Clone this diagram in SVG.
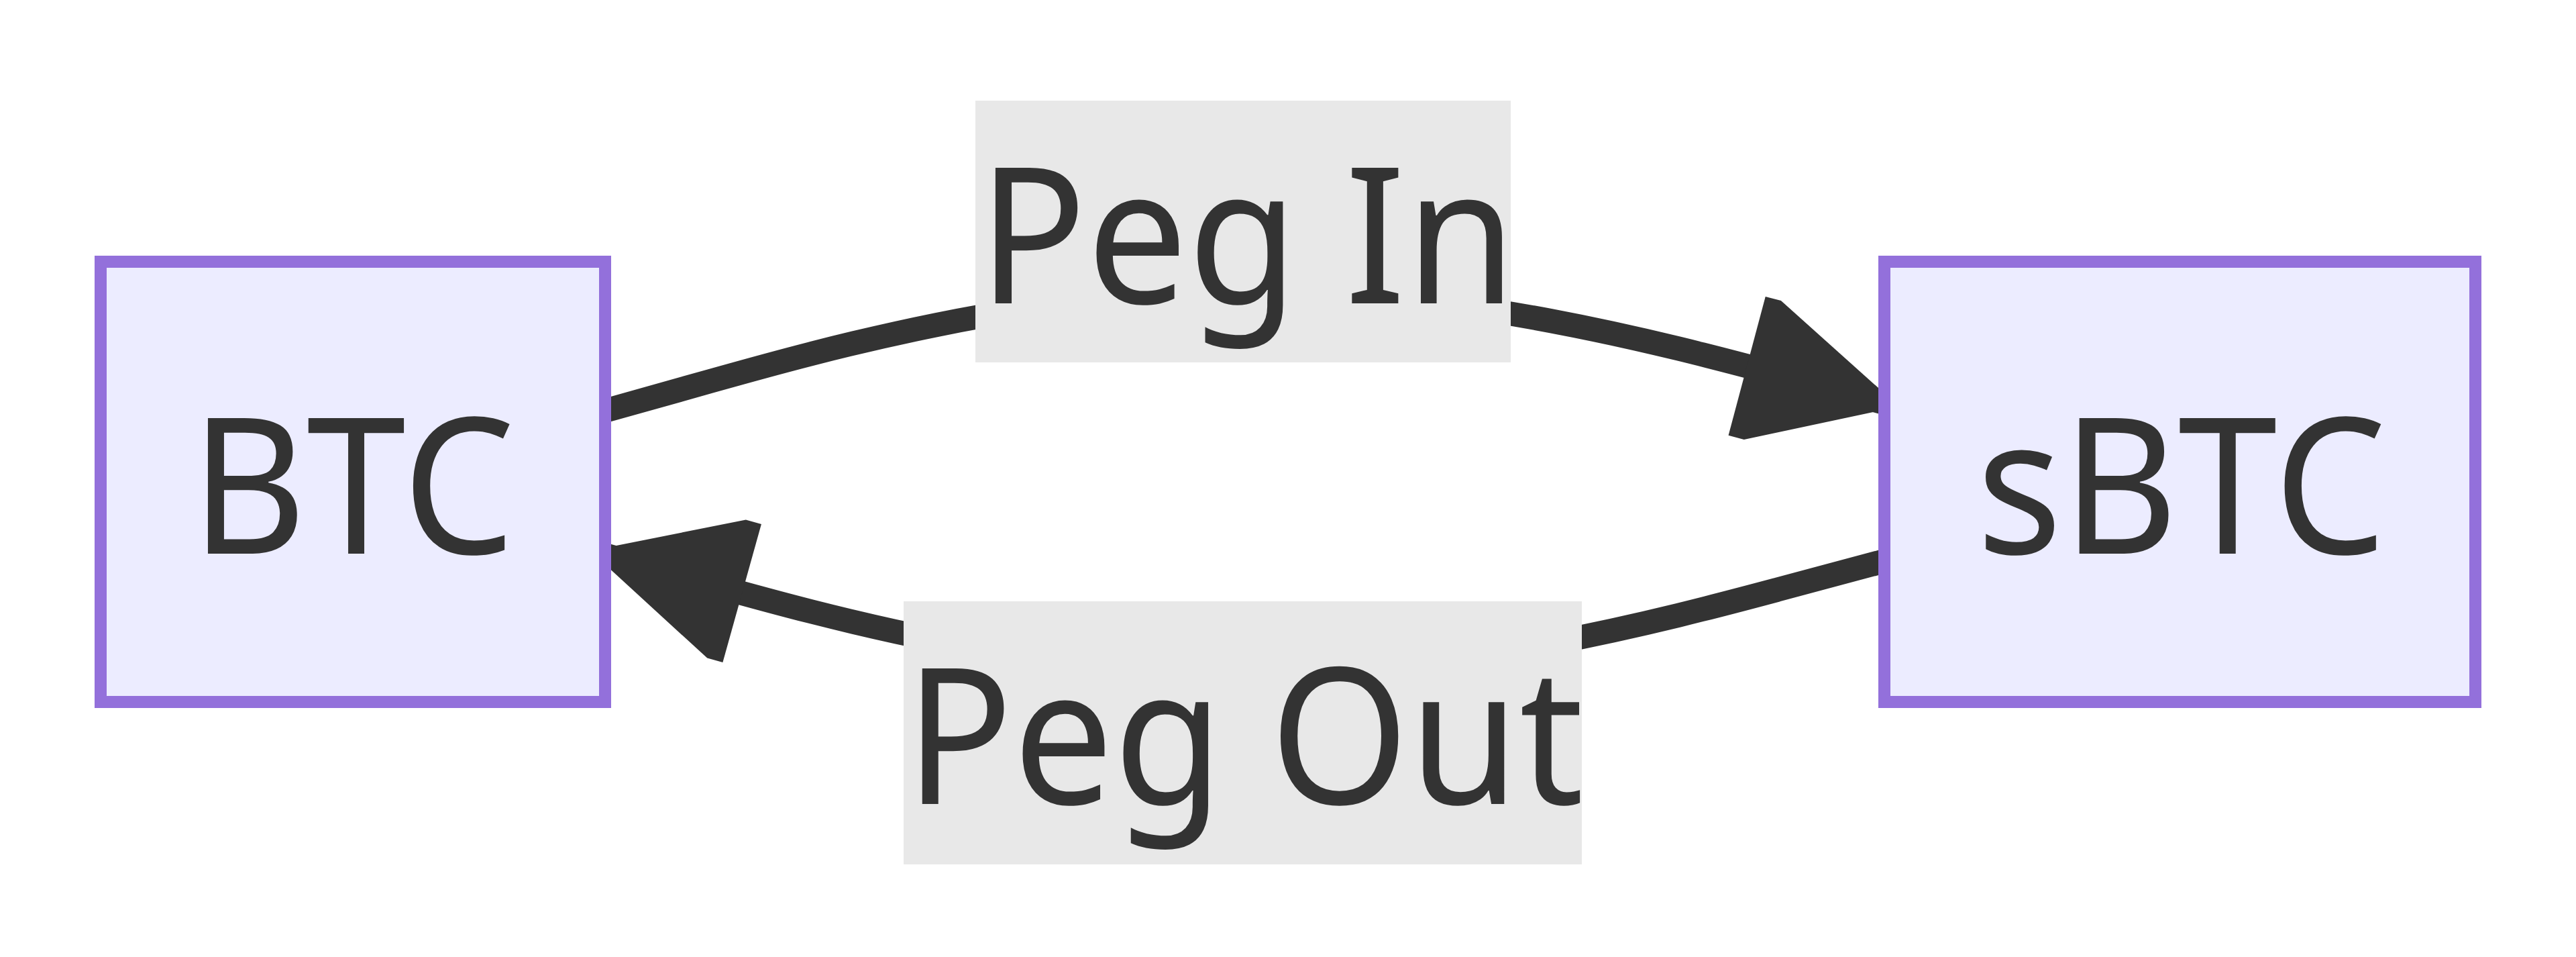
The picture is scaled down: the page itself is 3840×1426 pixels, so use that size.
<svg xmlns="http://www.w3.org/2000/svg" width="3840" height="1426" viewBox="0 0 3840 1426">
  <defs>
    <style>
      .node rect { fill: #ECECFF; stroke: #9370DB; stroke-width: 18; }
      .node text { font-family: "Noto Sans", "Open Sans", "DejaVu Sans", sans-serif; font-size: 283px; fill: #333333; text-anchor: middle; }
      .edge { fill: none; stroke: #333333; stroke-width: 36; }
      .arrow { fill: #333333; stroke: none; }
      .elabel rect { fill: #E8E8E8; stroke: none; }
      .elabel text { font-family: "Noto Sans", "Open Sans", "DejaVu Sans", sans-serif; font-size: 283px; fill: #333333; }
    </style>
    <path id="arrowhead" class="arrow" d="M0,0 L-211,-107 L-235,-107 L-235,107 L-211,107 Z"/>
    <clipPath id="clipPegOut">
      <rect x="1347" y="896" width="1011" height="392"/>
    </clipPath>
  </defs>
  <rect x="0" y="0" width="3840" height="1426" fill="#FFFFFF"/>

  <g id="connectors">
    <g id="edge-pegin">
      <path class="edge" d="M902,612 L1060.5,567.5 C1219,523 1536,434 1853.8,432 C2171.7,430 2490.3,515 2649.7,557.5 L2809,600"/>
      <use href="#arrowhead" transform="translate(2831.2,605.9) rotate(14.94)"/>
    </g>
    <g id="edge-pegout">
      <path class="edge" d="M2809,836 L2649.5,878.7 C2490,921.3 2171,1006.7 1853.2,1005.2 C1535.3,1003.7 1218.7,915.3 1060.3,871.2 L902,827"/>
      <use href="#arrowhead" transform="translate(879.8,820.8) rotate(195.6)"/>
    </g>
  </g>

  <g id="label-pegin" class="elabel">
    <rect x="1454" y="150" width="798" height="390"/>
    <text x="1458" y="452" transform="matrix(0.945 0 0 1 80.2 0)">Peg In</text>
  </g>
  <g id="label-pegout" class="elabel" clip-path="url(#clipPegOut)">
    <rect x="1347" y="896" width="1011" height="392"/>
    <text x="1349" y="1198" transform="matrix(0.94 0 0 1 80.94 0)">Peg Out</text>
  </g>

  <g id="node-BTC" class="node">
    <rect x="150" y="390" width="752" height="656"/>
    <text x="526" y="825" transform="matrix(0.94 0 0 1 31.56 0)">BTC</text>
  </g>
  <g id="node-sBTC" class="node">
    <rect x="2809" y="390" width="881" height="656"/>
    <text x="3252" y="825" transform="matrix(0.94 0 0 1 195.12 0)">sBTC</text>
  </g>
</svg>
